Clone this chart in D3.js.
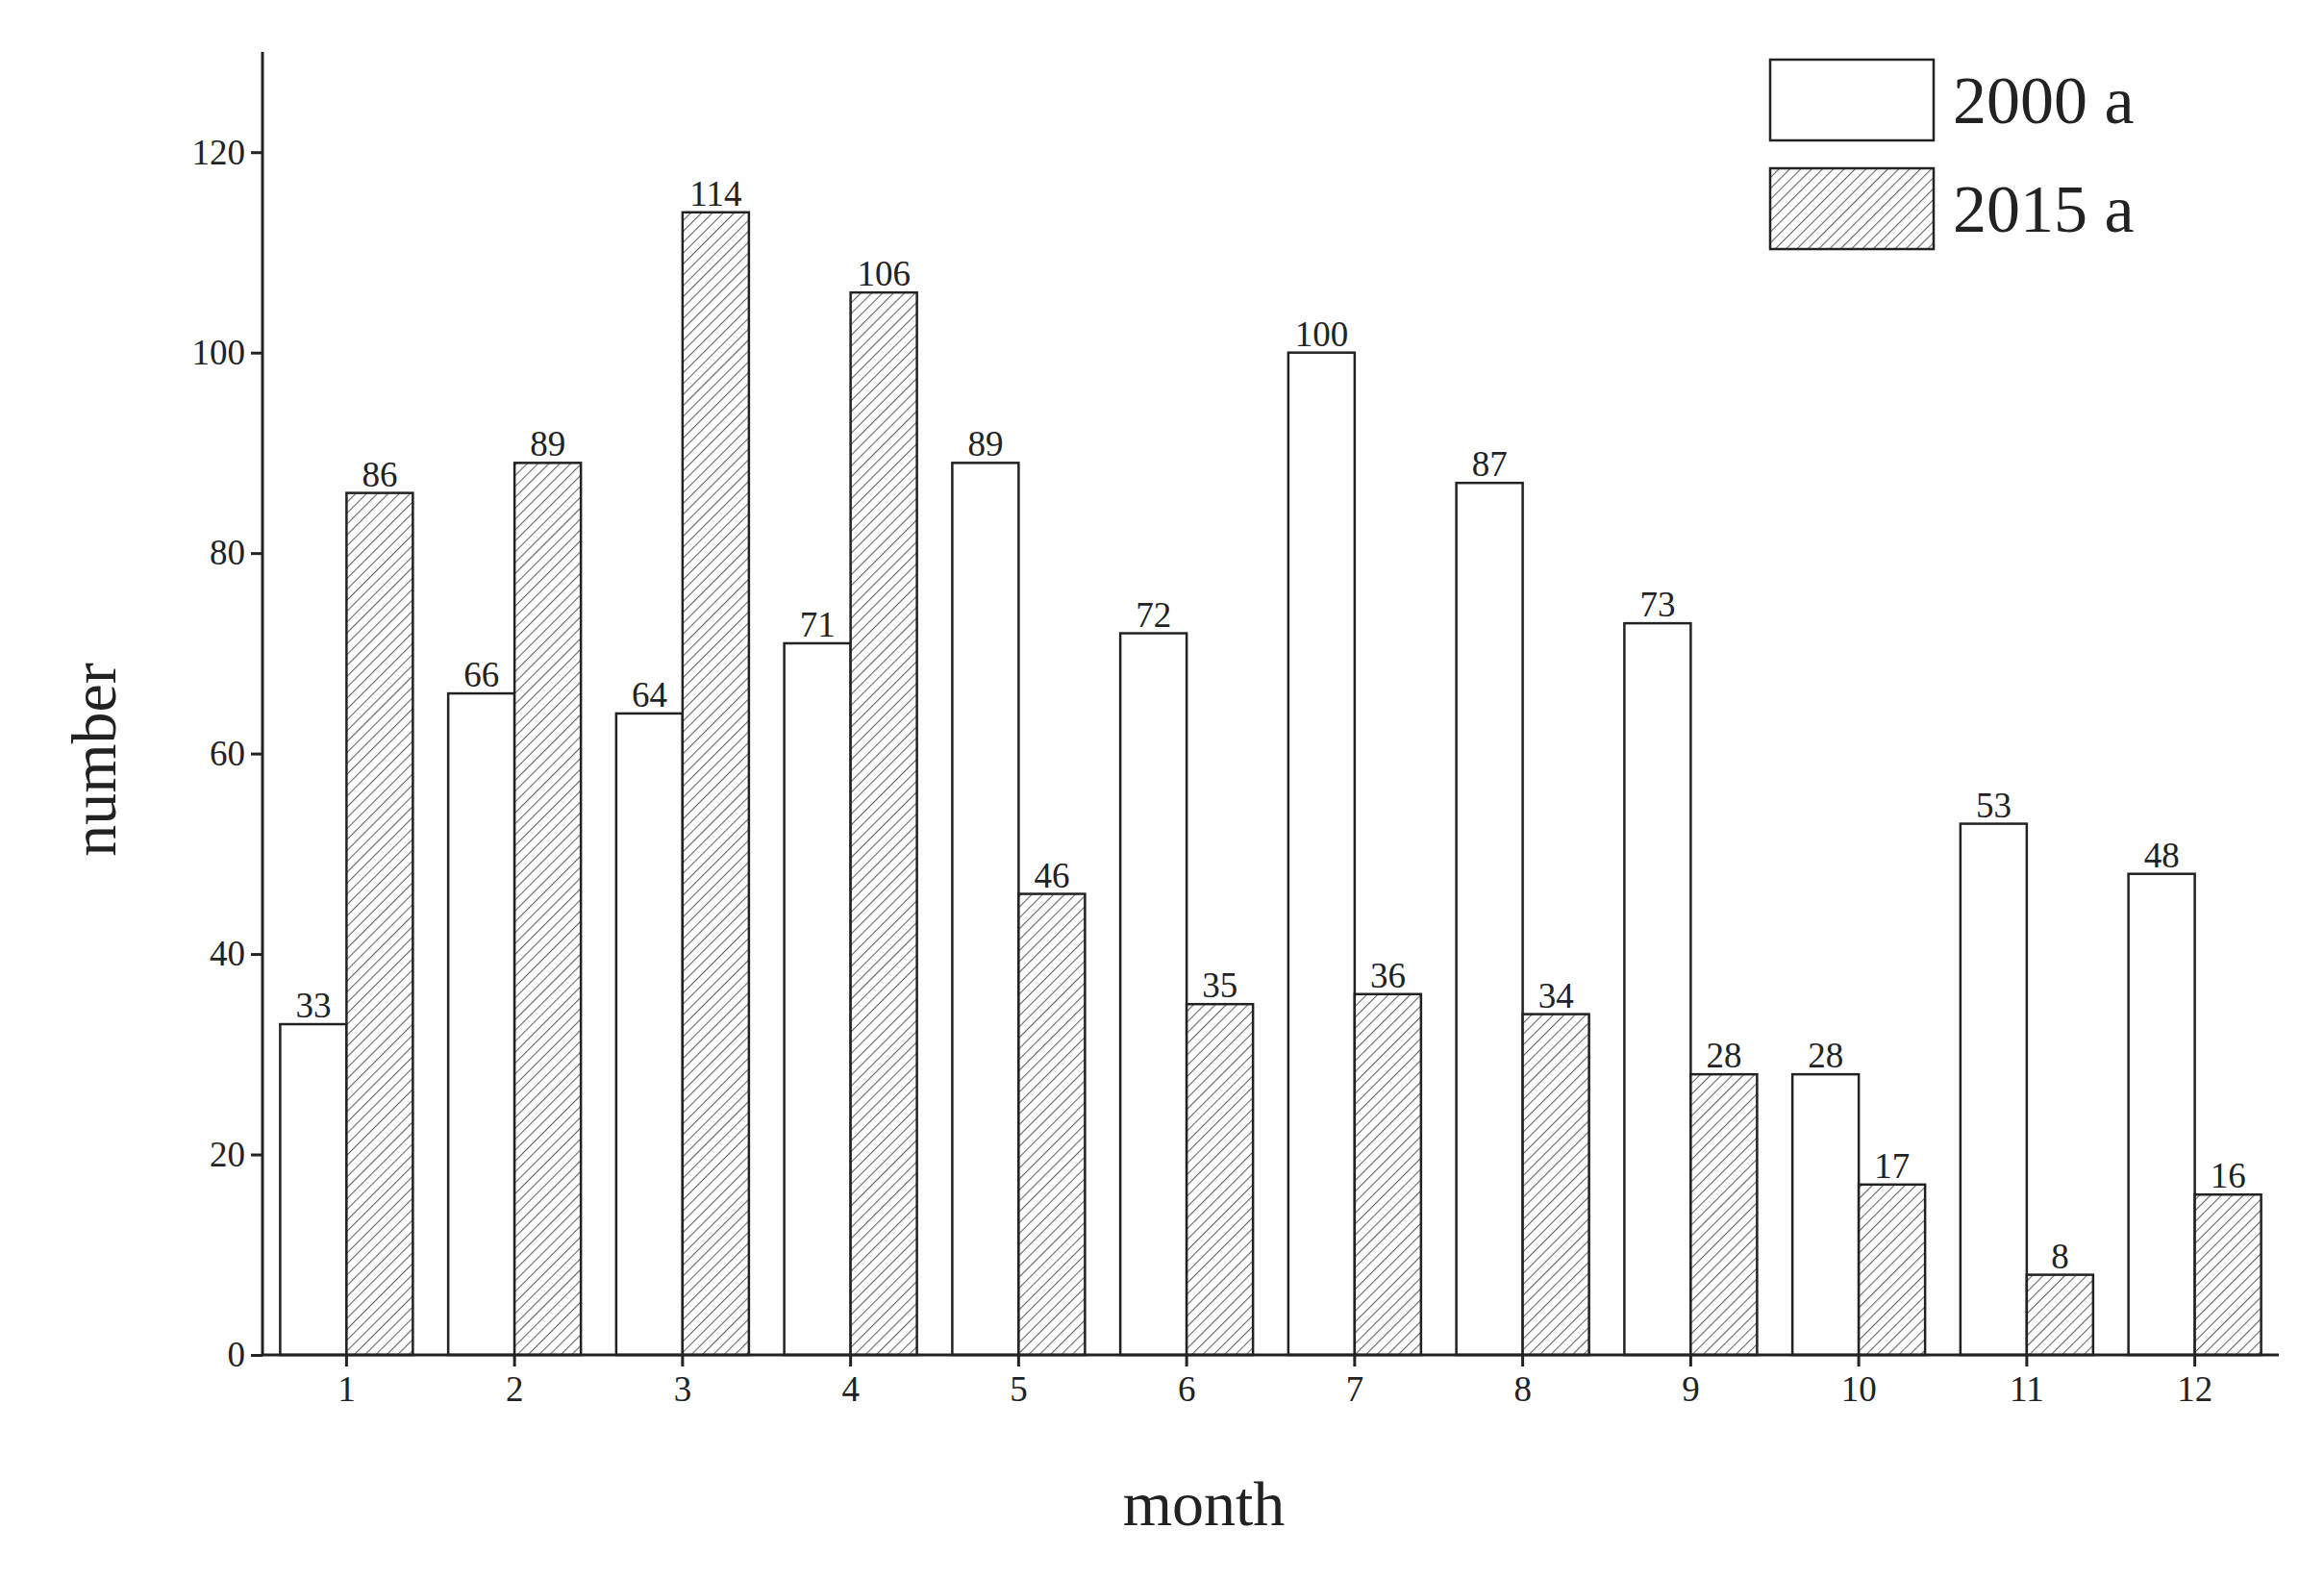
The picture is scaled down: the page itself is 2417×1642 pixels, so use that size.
<!DOCTYPE html><html><head><meta charset="utf-8"><script src="https://cdn.jsdelivr.net/npm/d3@7"></script>
<style>body{margin:0;background:#fff}text{font-family:"Liberation Serif",serif;fill:#222}</style></head><body><svg id="c" width="2417" height="1642"></svg><script>
const months=["1","2","3","4","5","6","7","8","9","10","11","12"];
const s2000=[33,66,64,71,89,72,100,87,73,28,53,48];
const s2015=[86,89,114,106,46,35,36,34,28,17,8,16];
const yTicks=[0,20,40,60,80,100,120];
const series=["2000 a","2015 a"];
const svg=d3.select("#c");
const L=273,R=2370,T=54,B=1409;
const x=d3.scaleBand().domain(months).range([L,R]);
const y=d3.scaleLinear().domain([0,130]).range([B,T]);
const bw=69;
const defs=svg.append("defs");
const p=defs.append("pattern").attr("id","h").attr("patternUnits","userSpaceOnUse").attr("width",8).attr("height",8).attr("patternTransform","rotate(45)");
p.append("rect").attr("width",8).attr("height",8).attr("fill","#fff");
p.append("line").attr("x1",0).attr("y1",0).attr("x2",0).attr("y2",8).attr("stroke","#666").attr("stroke-width",2.2);
const g=svg.append("g");
function draw(data,off,fill){
 const c=g.selectAll(null).data(data).enter();
 c.append("rect").attr("x",(d,i)=>x(months[i])+x.bandwidth()/2+off).attr("y",d=>y(d)).attr("width",bw).attr("height",d=>B-y(d)).attr("fill",fill).attr("stroke","#222").attr("stroke-width",2.5);
 c.append("text").attr("x",(d,i)=>x(months[i])+x.bandwidth()/2+off+bw/2).attr("y",d=>y(d)-7).attr("text-anchor","middle").attr("font-size",37).text(d=>d);
}
draw(s2000,-bw,"#fff");draw(s2015,0,"url(#h)");
const xa=svg.append("g").attr("transform",`translate(0,${B})`).call(d3.axisBottom(x).tickSize(12).tickSizeOuter(0).tickPadding(10));
const ya=svg.append("g").attr("transform",`translate(${L},0)`).call(d3.axisLeft(y).tickValues(yTicks).tickSize(12).tickSizeOuter(0).tickPadding(6));
[xa,ya].forEach(a=>{a.selectAll("path,line").attr("stroke","#222").attr("stroke-width",3);a.selectAll("text").attr("font-size",37).attr("font-family","Liberation Serif").attr("fill","#222");});
ya.select("path").attr("d",`M0,${B}V${T}`);xa.select("path").attr("d",`M${L},0H${R}`);
svg.append("text").attr("x",1252).attr("y",1586).attr("text-anchor","middle").attr("font-size",66).text("month");
svg.append("text").attr("transform","translate(120,790) rotate(-90)").attr("text-anchor","middle").attr("font-size",66).text("number");
const lg=svg.append("g");
series.forEach((s,i)=>{
 const yy=62+i*113;
 lg.append("rect").attr("x",1841).attr("y",yy).attr("width",170).attr("height",84).attr("fill",i?"url(#h)":"#fff").attr("stroke","#222").attr("stroke-width",2.5);
 lg.append("text").attr("x",2031).attr("y",yy+66).attr("font-size",70).text(s);
});
</script></body></html>
